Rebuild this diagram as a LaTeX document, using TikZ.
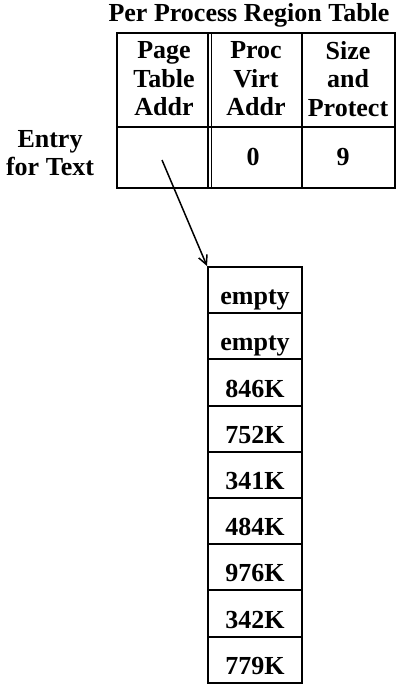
\documentclass[tikz,border=0pt]{standalone}
\usepackage{fontspec}
\setmainfont{Liberation Serif}
\usetikzlibrary{positioning,arrows.meta}
\tikzset{
  txt/.style={font=\bfseries\fontsize{26}{28.5}\selectfont,align=center,inner sep=0pt},
  pgrow/.style={draw,line width=2pt,minimum width=94pt,minimum height=46.2pt,inner sep=0pt,
    text height=30pt,text depth=1pt,font=\bfseries\fontsize{26}{28.5}\selectfont}
}
\begin{document}
\begin{tikzpicture}[x=1pt,y=-1pt]
\useasboundingbox (0,0) rectangle (403,685);
% region table
\node[txt] (title) at (249,15) {Per Process Region Table};
\draw[line width=2pt] (117,33) rectangle (395,188);
\draw[line width=2pt] (117,127) -- (395,127);
\draw[line width=1.5pt] (208,33) -- (208,188);
\draw[line width=1.5pt] (211.5,33) -- (211.5,188);
\draw[line width=1.5pt] (302,33) -- (302,188);
\node[txt] (hpage) at (164,79) {Page\\Table\\Addr};
\node[txt] (hvirt) at (256,79) {Proc\\Virt\\Addr};
\node[txt] (hsize) at (348,79) {Size\\and\\Protect};
\node[txt] (entry) at (50,153) {Entry\\for Text};
\node[txt,minimum width=80pt,minimum height=50pt] (pta) at (162,160) {};
\node[txt] (virt) at (253,157) {0};
\node[txt] (size) at (343,157) {9};
% page table
\node[pgrow] (pt1) at (255,290.1) {empty};
\node[pgrow] (pt2) at (255,336.3) {empty};
\node[pgrow] (pt3) at (255,382.5) {846K};
\node[pgrow] (pt4) at (255,428.7) {752K};
\node[pgrow] (pt5) at (255,474.9) {341K};
\node[pgrow] (pt6) at (255,521.1) {484K};
\node[pgrow] (pt7) at (255,567.3) {976K};
\node[pgrow] (pt8) at (255,613.5) {342K};
\node[pgrow] (pt9) at (255,659.7) {779K};
\draw[line width=1.5pt,-{Straight Barb[length=9pt,width=9pt]}] (pta.center) -- (pt1.north west);
\end{tikzpicture}
\end{document}
